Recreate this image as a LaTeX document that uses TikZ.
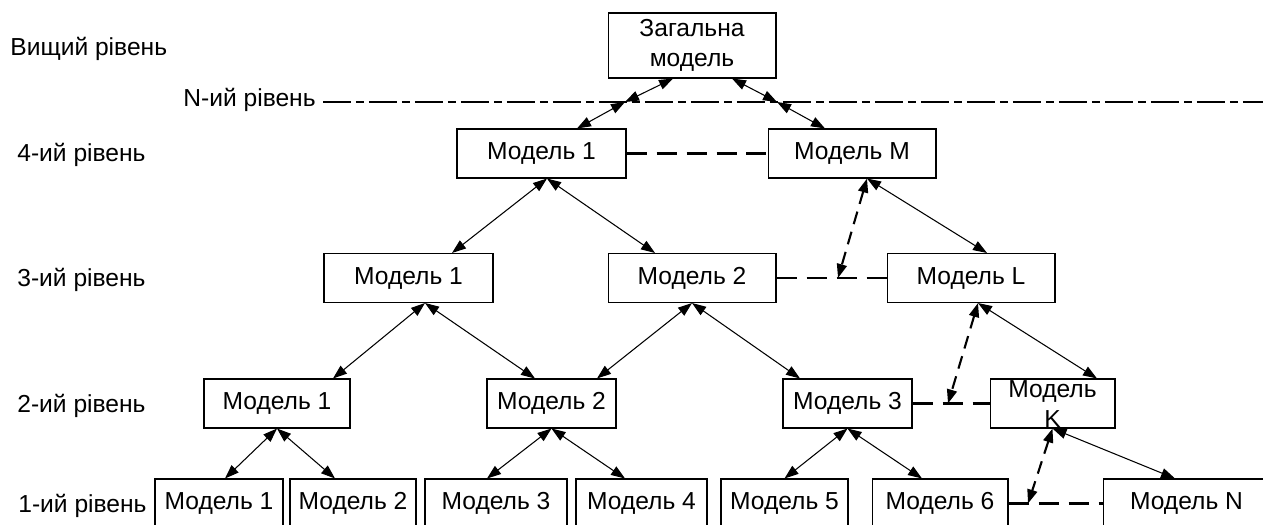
\documentclass[tikz,border=0pt]{standalone}
\usepackage{fontspec}
\setmainfont{Liberation Sans}
\usetikzlibrary{arrows.meta}

\begin{document}
\begin{tikzpicture}[
            x=0.02cm, y=-0.02cm,
            every node/.style={font=\fontsize{14}{17}\selectfont},
            box/.style={rectangle, draw, line width=0.6pt, inner sep=0pt, minimum height=0.98cm},
            lvl/.style={anchor=base west, inner sep=0pt},
            arrow/.style={{Triangle[length=0.28cm,width=0.2cm]}-{Triangle[length=0.28cm,width=0.2cm]}, line width=0.6pt},
            darrow/.style={arrow, line width=1.2pt, dash pattern=on 0.26cm off 0.16cm},
            link/.style={line width=1.2pt, dash pattern=on 0.4cm off 0.2cm},
            nline/.style={line width=1.2pt, dash pattern=on 0.56cm off 0.1cm on 0.16cm off 0.1cm}
        ]
            \useasboundingbox (0,0) rectangle (1263,524);

            % Levels
            \node[lvl] (lvlTop) at (10,55) {Вищий рівень};
            \node[lvl] (lvlN) at (183,106) {N-ий рівень};
            \node[lvl] (lvl4) at (17,161) {4-ий рівень};
            \node[lvl] (lvl3) at (17,286) {3-ий рівень};
            \node[lvl] (lvl2) at (17,412) {2-ий рівень};
            \node[lvl] (lvl1) at (18,512) {1-ий рівень};

            % N-th level line
            \coordinate (nL) at (323,102);
            \coordinate (nR) at (1263,102);
            \draw[nline] (nL) -- (nR);

            % Top model
            \node[box, minimum width=3.36cm, minimum height=1.3cm, align=center] (top) at (692,45.5) {Загальна\\модель};

            % Level 4
            \node[box, minimum width=3.38cm] (m41) at (541.5,153.5) {Модель 1};
            \node[box, minimum width=3.36cm] (m4M) at (852,153.5) {Модель M};

            % Level 3
            \node[box, minimum width=3.38cm] (m31) at (408.5,278) {Модель 1};
            \node[box, minimum width=3.36cm] (m32) at (692,278) {Модель 2};
            \node[box, minimum width=3.36cm] (m3L) at (971,278) {Модель L};

            % Level 2
            \node[box, minimum width=2.92cm] (m21) at (277,403.5) {Модель 1};
            \node[box, minimum width=2.58cm] (m22) at (551.5,403.5) {Модель 2};
            \node[box, minimum width=2.58cm] (m23) at (847.5,403.5) {Модель 3};
            \node[box, minimum width=2.5cm, align=center, text height=27pt, text depth=0pt] (m2K) at (1052.5,403.5) {Модель\\K};

            % Level 1
            \node[box, minimum width=2.56cm] (m11) at (219,503.5) {Модель 1};
            \node[box, minimum width=2.52cm] (m12) at (353,503.5) {Модель 2};
            \node[box, minimum width=2.84cm] (m13) at (496,503.5) {Модель 3};
            \node[box, minimum width=2.62cm] (m14) at (641.5,503.5) {Модель 4};
            \node[box, minimum width=2.54cm] (m15) at (784.5,503.5) {Модель 5};
            \node[box, minimum width=2.72cm] (m16) at (940,503.5) {Модель 6};
            \node[box, minimum width=3.34cm] (m1N) at (1186.5,503.5) {Модель N};

            % Links between neighbours
            \draw[link] (m41) -- (m4M);
            \draw[link] (m32) -- (m3L);
            \draw[link] (m23) -- (m2K);
            \draw[link] (m16) -- (m1N);

            % Crossing points
            \coordinate (cL) at (625,102);
            \coordinate (cR) at (777,102);
            \coordinate (j3) at (838,278);
            \coordinate (j2) at (948,403.5);
            \coordinate (j1) at (1028,503.5);

            % Arrows
            \draw[arrow] ([xshift=-0.38cm]top.south) -- (cL);
            \draw[arrow] (cL) -- ([xshift=0.71cm]m41.north);
            \draw[arrow] ([xshift=0.8cm]top.south) -- (cR);
            \draw[arrow] (cR) -- ([xshift=-0.54cm]m4M.north);
            \draw[arrow] ([xshift=0.11cm]m41.south) -- ([xshift=0.87cm]m31.north);
            \draw[arrow] ([xshift=0.11cm]m41.south) -- ([xshift=-0.74cm]m32.north);
            \draw[arrow] ([xshift=0.3cm]m4M.south) -- ([xshift=0.32cm]m3L.north);
            \draw[arrow] ([xshift=0.33cm]m31.south) -- ([xshift=1.12cm]m21.north);
            \draw[arrow] ([xshift=0.33cm]m31.south) -- ([xshift=-0.33cm]m22.north);
            \draw[arrow] (m32.south) -- ([xshift=0.91cm]m22.north);
            \draw[arrow] (m32.south) -- ([xshift=-0.95cm]m23.north);
            \draw[arrow] ([xshift=0.14cm]m3L.south) -- ([xshift=0.89cm]m2K.north);
            \draw[arrow] (m21.south) -- ([xshift=0.12cm]m11.north);
            \draw[arrow] (m21.south) -- ([xshift=-0.36cm]m12.north);
            \draw[arrow] (m22.south) -- ([xshift=-0.18cm]m13.north);
            \draw[arrow] (m22.south) -- ([xshift=-0.33cm]m14.north);
            \draw[arrow] (m23.south) -- (m15.north);
            \draw[arrow] (m23.south) -- ([xshift=-0.36cm]m16.north);
            \draw[arrow] (m2K.south) -- ([xshift=-0.23cm]m1N.north);

            % Dashed arrows
            \draw[darrow] ([xshift=0.3cm]m4M.south) -- (j3);
            \draw[darrow] ([xshift=0.14cm]m3L.south) -- (j2);
            \draw[darrow] (m2K.south) -- (j1);
        \end{tikzpicture}
\end{document}
